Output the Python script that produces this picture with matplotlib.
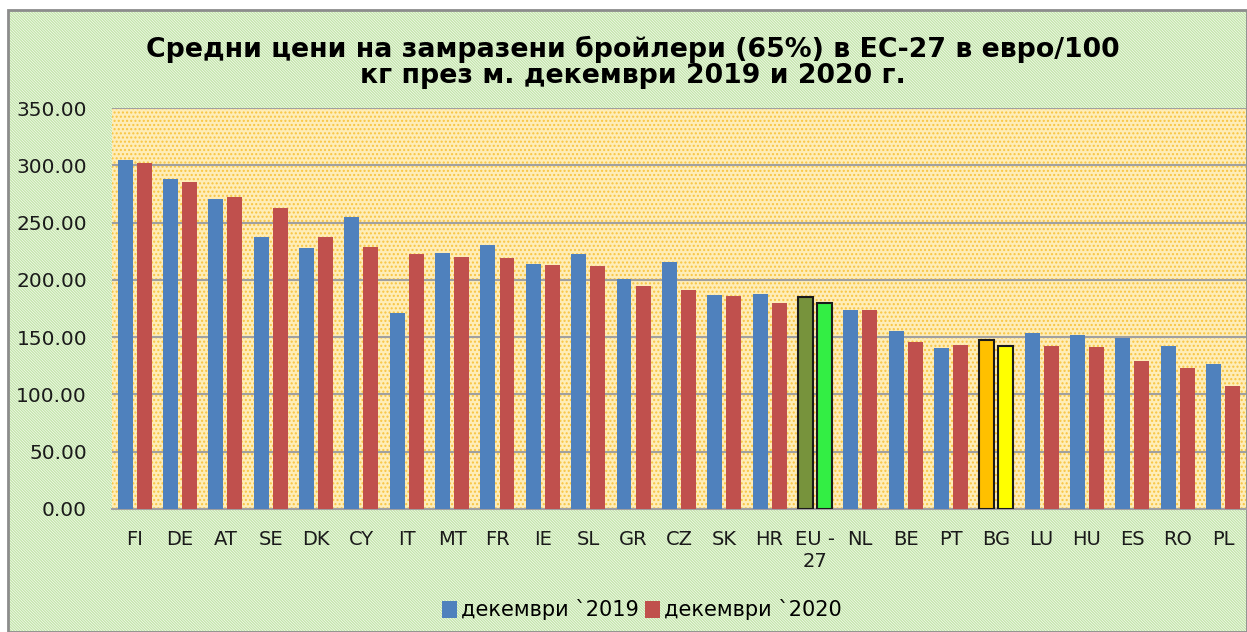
import numpy as np
import matplotlib
matplotlib.use("Agg")
import matplotlib.pyplot as plt
from matplotlib.patches import Rectangle, Patch

# data
countries = ["FI", "DE", "AT", "SE", "DK", "CY", "IT", "MT", "FR", "IE", "SL", "GR", "CZ",
             "SK", "HR", "EU -\n27", "NL", "BE", "PT", "BG", "LU", "HU", "ES", "RO", "PL"]
dec_2019 = [304.6, 288.0, 270.6, 237.4, 227.8, 254.9, 171.5, 223.4, 230.4, 214.0, 222.6, 200.7, 215.6,
            186.8, 187.7, 185.0, 173.7, 155.4, 140.5, 147.5, 153.6, 152.0, 149.0, 142.3, 126.6]
dec_2020 = [302.0, 285.0, 272.3, 262.7, 237.4, 228.7, 222.6, 220.0, 219.0, 213.0, 212.0, 194.6, 191.0,
            186.0, 179.8, 180.0, 173.7, 145.8, 143.0, 142.3, 142.3, 141.4, 129.0, 123.0, 107.0]
legend_labels = ["декември `2019", "декември `2020"]
title = "Средни цени на замразени бройлери (65%) в ЕС-27 в евро/100\nкг през м. декември 2019 и 2020 г."

blue = "#4F81BD"
red = "#C0504D"
# highlighted groups: EU-27 and BG
special = {"EU -\n27": ("#77933C", "#33EE44"), "BG": ("#FFC000", "#FFFF00")}

plt.rcParams["font.family"] = ["DejaVu Sans"]
plt.rcParams["hatch.linewidth"] = 1.0

fig = plt.figure(figsize=(12.47, 6.32), dpi=100)

# chart area background: green diagonal hatch on white
bx, by = 8 / 1247, 0.0
bw, bh = 1 - bx, 1 - 10 / 632 - by
fig.patches.append(Rectangle((bx, by), bw, bh, transform=fig.transFigure,
                             facecolor="white", edgecolor="#C4E5AB", hatch="\\" * 12,
                             linewidth=0, zorder=-2))
fig.patches.append(Rectangle((bx, by), bw, bh, transform=fig.transFigure,
                             facecolor="none", edgecolor="#8C8C8C", linewidth=2, zorder=-1))

ax = fig.add_axes([112 / 1247, 1 - 509 / 632, 1 - 112 / 1247 - 0.001, (509 - 108) / 632])
ax.set_facecolor("#FEEDB8")
ax.patch.set_hatch("....")
ax.patch.set_edgecolor("#F8C440")
ax.patch.set_linewidth(0)

x = np.arange(len(countries))
w = 0.33
off = 0.21
for i, c in enumerate(countries):
    if c in special:
        c1, c2 = special[c]
        ax.bar(x[i] - off, dec_2019[i], w, color=c1, edgecolor="#1A1A1A", linewidth=1.5, zorder=3)
        ax.bar(x[i] + off, dec_2020[i], w, color=c2, edgecolor="#1A1A1A", linewidth=1.5, zorder=3)
    else:
        ax.bar(x[i] - off, dec_2019[i], w, color=blue, zorder=3)
        ax.bar(x[i] + off, dec_2020[i], w, color=red, zorder=3)

ax.set_xlim(-0.5, len(countries) - 0.5)
ax.set_ylim(0, 350)
ax.set_yticks(np.arange(0, 351, 50))
ax.set_yticklabels([f"{v:.2f}" for v in np.arange(0, 351, 50)], fontsize=14.5, color="#1A1A1A")
ax.set_xticks(x)
ax.set_xticklabels(countries, fontsize=14, color="#1A1A1A")
ax.tick_params(axis="both", length=0)
ax.tick_params(axis="x", pad=15)
ax.tick_params(axis="y", pad=18)
ax.grid(axis="y", color="#A0A0A0", linewidth=1.5, zorder=1)
ax.set_axisbelow(True)
for s in ["left", "right", "top"]:
    ax.spines[s].set_visible(False)
ax.spines["bottom"].set_color("#A0A0A0")
ax.spines["bottom"].set_linewidth(1.5)

fig.text(633 / 1247, 1 - 62 / 632, title, ha="center", va="center", fontsize=19.3,
         fontweight="bold", linespacing=1.0, color="black")

handles = [Patch(facecolor=blue), Patch(facecolor=red)]
fig.legend(handles, legend_labels, loc="center", bbox_to_anchor=(642 / 1247, 1 - 610 / 632),
           ncol=2, frameon=False, fontsize=15, handlelength=0.7, handleheight=0.9,
           handletextpad=0.2, columnspacing=0.3)

fig.savefig("out.png", dpi=100)
